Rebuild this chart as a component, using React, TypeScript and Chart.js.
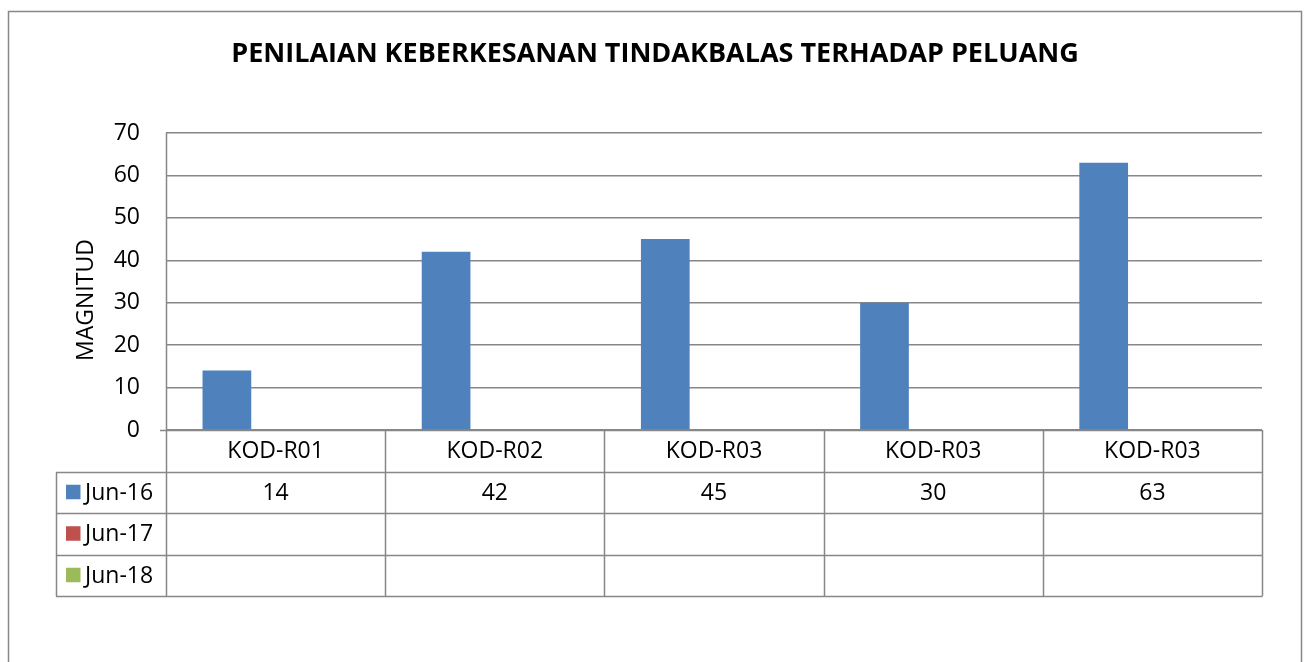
import React, { useEffect, useRef } from "react";
import { Chart, registerables } from "chart.js";

Chart.register(...registerables);

const title = "PENILAIAN KEBERKESANAN TINDAKBALAS TERHADAP PELUANG";
const yAxisTitle = "MAGNITUD";
const categories = ["KOD-R01", "KOD-R02", "KOD-R03", "KOD-R03", "KOD-R03"];
const seriesNames = ["Jun-16", "Jun-17", "Jun-18"];
const jun16 = [14, 42, 45, 30, 63];
const jun17: (number | null)[] = [null, null, null, null, null];
const jun18: (number | null)[] = [null, null, null, null, null];
const seriesColors = ["#4F81BD", "#C0504D", "#9BBB59"];
const yMin = 0;
const yMax = 70;
const yStep = 10;

const FONT = "'Open Sans', 'Noto Sans', sans-serif";
const LINE = "#878787";

const tablePlugin = {
  id: "excelTable",
  afterDraw(chart: any) {
    const ctx = chart.ctx as CanvasRenderingContext2D;
    const area = chart.chartArea;
    const xs = chart.scales.x;
    const n = categories.length;
    const half = (xs.getPixelForValue(1) - xs.getPixelForValue(0)) / 2;
    const rowH = 41.5;
    const top = area.bottom;
    const left = 56;
    const rows = [jun16, jun17, jun18];

    ctx.save();
    // outer border
    ctx.strokeStyle = LINE;
    ctx.lineWidth = 1.5;
    ctx.strokeRect(8.5, 11.5, 1293, 700);

    // title
    ctx.fillStyle = "#000";
    ctx.font = `bold 27px ${FONT}`;
    ctx.textAlign = "center";
    ctx.textBaseline = "middle";
    ctx.fillText(title, 655, 54);

    // y axis title
    ctx.save();
    ctx.translate(85, 300);
    ctx.rotate(-Math.PI / 2);
    ctx.font = `23px ${FONT}`;
    ctx.fillText(yAxisTitle, 0, 1);
    ctx.restore();

    // table lines
    ctx.strokeStyle = LINE;
    ctx.lineWidth = 1.5;
    ctx.beginPath();
    for (let i = 0; i <= n; i++) {
      const x = i < n ? xs.getPixelForValue(i) - half : xs.getPixelForValue(n - 1) + half;
      ctx.moveTo(Math.round(x) + 0.5, i === 0 ? area.top : top);
      ctx.lineTo(Math.round(x) + 0.5, top + rowH * 4);
    }
    const r = area.right;
    ctx.moveTo(area.left - 6, Math.round(top) + 0.5);
    ctx.lineTo(r, Math.round(top) + 0.5);
    for (let k = 1; k <= 4; k++) {
      const y = Math.round(top + rowH * k) + 0.5;
      ctx.moveTo(left, y);
      ctx.lineTo(r + 0.5, y);
    }
    ctx.moveTo(left + 0.5, Math.round(top + rowH) + 0.5);
    ctx.lineTo(left + 0.5, Math.round(top + rowH * 4) + 0.5);
    ctx.stroke();

    // category labels
    ctx.fillStyle = "#000";
    ctx.font = `23px ${FONT}`;
    ctx.textAlign = "center";
    ctx.textBaseline = "middle";
    for (let i = 0; i < n; i++) {
      ctx.fillText(categories[i], xs.getPixelForValue(i), top + rowH / 2 + 1);
    }
    for (let s = 0; s < seriesNames.length; s++) {
      const cy = top + rowH * (s + 1) + rowH / 2;
      ctx.fillStyle = seriesColors[s];
      ctx.fillRect(66, cy - 7.5, 14.5, 14.5);
      ctx.fillStyle = "#000";
      ctx.textAlign = "left";
      ctx.fillText(seriesNames[s], 85, cy + 1);
      ctx.textAlign = "center";
      for (let i = 0; i < n; i++) {
        const v = rows[s][i];
        if (v !== null && v !== undefined) {
          ctx.fillText(String(v), xs.getPixelForValue(i), cy + 1);
        }
      }
    }
    ctx.restore();
  },
};

export default function App() {
  const ref = useRef<HTMLCanvasElement>(null);
  useEffect(() => {
    if (!ref.current) return;
    const chart = new Chart(ref.current, {
      type: "bar",
      data: {
        labels: categories,
        datasets: [
          { label: seriesNames[0], data: jun16, backgroundColor: seriesColors[0] },
          { label: seriesNames[1], data: jun17, backgroundColor: seriesColors[1] },
          { label: seriesNames[2], data: jun18, backgroundColor: seriesColors[2] },
        ],
      },
      options: {
        responsive: false,
        devicePixelRatio: 1,
        animation: false,
        events: [],
        layout: { padding: { top: 133, right: 44, left: 0, bottom: 0 } },
        datasets: { bar: { categoryPercentage: 3 / 4.5, barPercentage: 1 } },
        plugins: { legend: { display: false }, title: { display: false }, tooltip: { enabled: false } },
        scales: {
          x: {
            grid: { display: false },
            ticks: { display: false },
            border: { display: false },
            afterFit: (s: any) => {
              s.height = 232;
            },
          },
          y: {
            min: yMin,
            max: yMax,
            ticks: {
              stepSize: yStep,
              padding: 26,
              color: "#000",
              font: { family: FONT, size: 23 },
            },
            grid: { color: LINE, lineWidth: 1.5, drawTicks: false },
            border: { display: false },
            afterFit: (s: any) => {
              s.width = 166;
            },
          },
        },
      },
      plugins: [tablePlugin],
    });
    return () => chart.destroy();
  }, []);
  return (
    <div style={{ position: "absolute", left: 0, top: 0, width: 1306, height: 662, background: "#fff" }}>
      <canvas ref={ref} width={1306} height={662} style={{ display: "block" }} />
    </div>
  );
}
